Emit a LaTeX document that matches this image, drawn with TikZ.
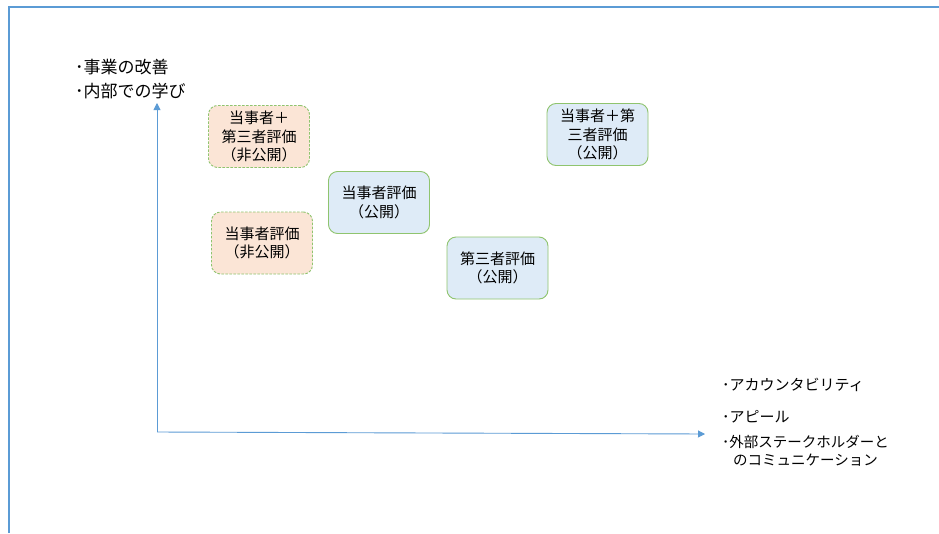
\documentclass[tikz,border=0pt]{standalone}
\usepackage{fontspec}
\newfontfamily\jp{Noto Sans CJK JP}
\usetikzlibrary{arrows.meta}
\definecolor{frameblue}{HTML}{5B9BD5}
\definecolor{boxgreen}{HTML}{8FC46E}
\definecolor{orangefill}{HTML}{FBE5D6}
\definecolor{bluefill}{HTML}{DEEBF7}
\tikzset{
  evalbox/.style={rounded corners=9pt, draw=boxgreen, line width=0.9pt, minimum width=101pt, minimum height=62pt, inner sep=0pt, align=center, font=\jp\fontsize{15}{18.5}\selectfont},
  private/.style={evalbox, fill=orangefill, dashed, dash pattern=on 2.5pt off 1.5pt},
  public/.style={evalbox, fill=bluefill},
  axislbl/.style={anchor=west, inner sep=0pt, font=\jp\fontsize{15}{18}\selectfont, align=left},
  axisline/.style={draw=frameblue, line width=0.9pt, -{Triangle[width=7pt,length=7pt]}}
}
\begin{document}
\begin{tikzpicture}[x=1pt,y=-1pt]
\useasboundingbox (0,0) rectangle (939,533);
\fill[white] (0,0) rectangle (939,533);
% frame
\draw[frameblue, line width=2pt] (9,533) -- (9,7) -- (939,7);
% axes
\coordinate (origin) at (157,432);
\coordinate (ytip) at (157,103);
\coordinate (xtip) at (705,434);
\draw[axisline] (origin) -- (ytip);
\draw[axisline] (origin) -- (xtip);
% axis labels
\node[axislbl, font=\jp\fontsize{17}{18}\selectfont] (y1) at (75,67) {･事業の改善};
\node[axislbl, font=\jp\fontsize{17}{18}\selectfont] (y2) at (75,91) {･内部での学び};
\node[axislbl] (x1) at (722,385) {･アカウンタビリティ};
\node[axislbl] (x2) at (722,417) {･アピール};
\node[axislbl, font=\jp\fontsize{14.5}{18.5}\selectfont] (x3) at (722,451) {･外部ステークホルダーと\\\hspace{0.75em}のコミュニケーション};
% boxes
\node[private] (a) at (259,136.5) {当事者＋\\第三者評価\\（非公開）};
\node[public] (b) at (379,202.5) {当事者評価\\（公開）};
\node[private] (c) at (262,243) {当事者評価\\（非公開）};
\node[public] (d) at (497.5,268) {第三者評価\\（公開）};
\node[public] (e) at (597.5,134.5) {当事者＋第\\三者評価\\（公開）};
\end{tikzpicture}
\end{document}
